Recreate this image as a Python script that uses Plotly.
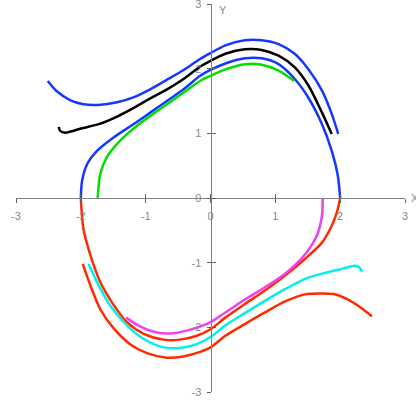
import plotly.graph_objects as go

# ---- data ----
blue_outer_x = [-2.51, -2.37, -2.16, -1.96, -1.73, -1.44, -1.19, -0.93, -0.67, -0.415, -0.16, 0.0, 0.23, 0.53, 0.79, 1.05, 1.30, 1.51, 1.72, 1.87, 1.97]
blue_outer_y = [1.81, 1.65, 1.51, 1.45, 1.44, 1.48, 1.555, 1.68, 1.83, 1.98, 2.15, 2.24, 2.36, 2.44, 2.44, 2.38, 2.23, 1.99, 1.66, 1.30, 0.99]

black_x = [-2.34, -2.32, -2.24, -2.01, -1.70, -1.44, -1.19, -0.93, -0.67, -0.415, -0.16, 0.0, 0.23, 0.53, 0.79, 1.05, 1.30, 1.51, 1.72, 1.87]
black_y = [1.10, 1.04, 1.01, 1.07, 1.15, 1.26, 1.39, 1.54, 1.68, 1.84, 2.03, 2.12, 2.23, 2.30, 2.29, 2.20, 2.02, 1.74, 1.32, 0.99]

blue_inner_x = [-2.0, -1.98, -1.90, -1.75, -1.49, -1.19, -0.93, -0.67, -0.415, -0.16, 0.0, 0.23, 0.53, 0.79, 1.05, 1.30, 1.51, 1.72, 1.87, 1.96, 2.0]
blue_inner_y = [0.0, 0.27, 0.53, 0.73, 0.94, 1.14, 1.32, 1.50, 1.68, 1.89, 1.98, 2.08, 2.16, 2.16, 2.07, 1.84, 1.55, 1.14, 0.73, 0.37, 0.0]

green_x = [-1.74, -1.70, -1.60, -1.39, -1.19, -0.93, -0.67, -0.415, -0.16, 0.0, 0.23, 0.53, 0.79, 1.05, 1.29]
green_y = [0.0, 0.37, 0.63, 0.89, 1.07, 1.27, 1.45, 1.63, 1.81, 1.89, 1.99, 2.07, 2.06, 1.97, 1.81]

red_inner_x = [-2.0, -1.96, -1.85, -1.70, -1.49, -1.29, -1.03, -0.72, -0.47, -0.21, 0.0, 0.23, 0.53, 0.84, 1.15, 1.46, 1.72, 1.87, 1.95, 2.0]
red_inner_y = [0.0, -0.48, -0.89, -1.30, -1.66, -1.92, -2.10, -2.19, -2.19, -2.13, -2.03, -1.85, -1.64, -1.43, -1.20, -0.94, -0.69, -0.43, -0.22, 0.0]

magenta_x = [1.73, 1.72, 1.64, 1.46, 1.15, 0.84, 0.53, 0.23, 0.0, -0.26, -0.57, -0.83, -1.08, -1.30]
magenta_y = [0.0, -0.27, -0.58, -0.87, -1.17, -1.38, -1.57, -1.77, -1.92, -2.02, -2.09, -2.08, -1.99, -1.85]

cyan_x = [-1.88, -1.75, -1.55, -1.29, -1.03, -0.72, -0.47, -0.21, 0.0, 0.23, 0.53, 0.84, 1.15, 1.46, 1.72, 1.97, 2.20, 2.28, 2.34]
cyan_y = [-1.02, -1.30, -1.66, -1.97, -2.18, -2.31, -2.32, -2.26, -2.15, -1.97, -1.78, -1.59, -1.41, -1.25, -1.17, -1.11, -1.05, -1.06, -1.14]

red_outer_x = [-1.97, -1.85, -1.70, -1.49, -1.24, -0.98, -0.67, -0.42, -0.16, 0.0, 0.23, 0.53, 0.84, 1.15, 1.46, 1.70, 1.90, 2.10, 2.31, 2.49]
red_outer_y = [-1.02, -1.36, -1.72, -2.02, -2.26, -2.40, -2.47, -2.45, -2.38, -2.31, -2.13, -1.95, -1.77, -1.60, -1.49, -1.475, -1.485, -1.56, -1.69, -1.83]

tick_vals = [-3, -2, -1, 0, 1, 2, 3]
tick_text = ["-3", "-2", "-1", "0", "1", "2", "3"]

curves = [
    (blue_outer_x, blue_outer_y, "#1438ff"),
    (black_x, black_y, "#000000"),
    (blue_inner_x, blue_inner_y, "#1438ff"),
    (green_x, green_y, "#00e000"),
    (red_inner_x, red_inner_y, "#ff2a00"),
    (magenta_x, magenta_y, "#f040f0"),
    (cyan_x, cyan_y, "#00f0f0"),
    (red_outer_x, red_outer_y, "#ff2a00"),
]

fig = go.Figure()
for xs, ys, col in curves:
    fig.add_trace(go.Scatter(x=xs, y=ys, mode="lines",
                             line=dict(color=col, width=2.5, shape="spline", smoothing=0.8),
                             hoverinfo="skip", showlegend=False, cliponaxis=False))

# invisible trace on secondary axes so they render
fig.add_trace(go.Scatter(x=[0], y=[0], xaxis="x2", yaxis="y2", mode="markers",
                         marker=dict(opacity=0), showlegend=False, hoverinfo="skip"))

font = dict(family="Liberation Sans, Arial, sans-serif", size=11, color="#888888")
axis_common = dict(range=[-3, 3], showgrid=False, zeroline=False, showline=True,
                   linecolor="#808080", linewidth=1, tickcolor="#606060",
                   tickvals=tick_vals, ticktext=tick_text, tickfont=font,
                   fixedrange=True, anchor="free", position=0.5, automargin=False,
                   ticklabeloverflow="allow")

fig.update_layout(
    width=416, height=403,
    margin=dict(l=16, r=11, t=4, b=11, autoexpand=False),
    plot_bgcolor="white", paper_bgcolor="white",
    xaxis=dict(**axis_common, ticks="outside", ticklen=4, side="bottom", ticklabelstandoff=4),
    yaxis=dict(**axis_common, ticks="outside", ticklen=4, side="left", ticklabelstandoff=3),
    xaxis2=dict(range=[-3, 3], overlaying="x", anchor="free", position=0.5, showgrid=False,
                zeroline=False, showline=False, ticks="inside", ticklen=4, tickcolor="#606060",
                tickvals=tick_vals, showticklabels=False, fixedrange=True, automargin=False),
    yaxis2=dict(range=[-3, 3], overlaying="y", anchor="free", position=0.5, showgrid=False,
                zeroline=False, showline=False, ticks="inside", ticklen=4, tickcolor="#606060",
                tickvals=tick_vals, showticklabels=False, fixedrange=True, automargin=False),
    annotations=[
        dict(x=0.2, y=2.9, xref="x", yref="y", text="Y", showarrow=False, font=font),
        dict(x=1.0103, y=0.5, xref="paper", yref="paper", text="X", showarrow=False,
             font=font, xanchor="left", yanchor="middle"),
    ],
)

fig.write_html("out.html", config={"displayModeBar": False},
               post_script="document.body.style.margin='0';document.body.style.padding='0';")
